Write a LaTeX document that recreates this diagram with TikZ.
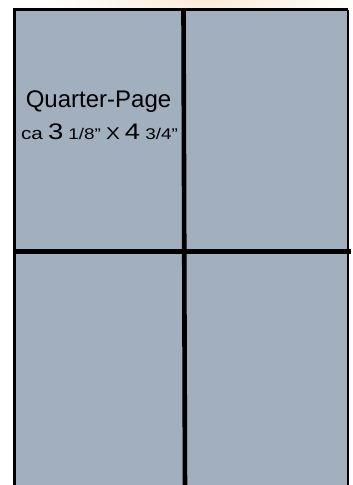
\documentclass[tikz,border=0pt]{standalone}
\usepackage{fontspec}
\setmainfont{Liberation Sans}
\usetikzlibrary{positioning}
\definecolor{pagegray}{RGB}{161,175,191}
\definecolor{peachglow}{RGB}{251,233,214}

\newcommand{\bigfig}[1]{{\fontsize{22.5}{24}\selectfont #1}}
\newcommand{\smallfig}[1]{{\fontsize{15.5}{17}\selectfont #1}}
\newcommand{\midfig}[1]{{\fontsize{17}{18}\selectfont #1}}

\begin{document}
\begin{tikzpicture}[x=1pt, y=-1pt,
    rule/.style={line width=4.6pt, black},
    edge/.style={line width=3pt, black},
    label/.style={anchor=base, inner sep=0pt},
]
    \useasboundingbox (0,0) rectangle (353,485);
    \fill[white] (0,0) rectangle (353,485);
    % soft glow along the top
    \begin{scope}
        \clip (0,0) rectangle (353,485);
        \shade[inner color=peachglow, outer color=white] (205,0) ellipse [x radius=160, y radius=24];
    \end{scope}
    % the page
    \coordinate (tl) at (14.5,9.5);
    \coordinate (tr) at (347.5,9.5);
    \coordinate (bl) at (14.5,492);
    \coordinate (br) at (347.5,492);
    \fill[pagegray] (tl) rectangle (br);
    \draw[edge] (bl) -- (tl) -- (tr);
    \draw[line width=2pt, black] (tr) -- (br);
    % the quarters
    \coordinate (midtop) at (183.5,9.5);
    \coordinate (midbot) at (185,492);
    \coordinate (midleft) at (14.5,251.5);
    \coordinate (midright) at (351,251.5);
    \draw[rule] (midtop) -- (midbot);
    \draw[rule] (midleft) -- (midright);
    % text
    \node[label, font=\fontsize{24}{27}\selectfont] (title) at (98.5,107.7) {Quarter-Page};
    \node[label, font=\fontsize{15}{17}\selectfont] (size) at (99.5,139.5) {\scalebox{1.22}[1]{\midfig{ca} \bigfig{3} \smallfig{1/8”} \midfig{X} \bigfig{4} \smallfig{3/4”}}};
\end{tikzpicture}
\end{document}
